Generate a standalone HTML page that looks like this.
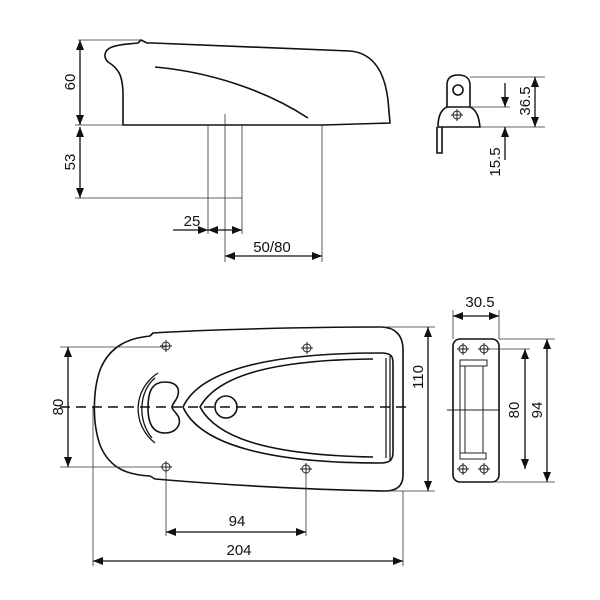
<!DOCTYPE html>
<html><head><meta charset="utf-8"><style>html,body{margin:0;padding:0;background:#fff}svg{display:block}text{font-family:"Liberation Sans",sans-serif;font-size:15px;fill:#111}</style></head><body>
<svg width="600" height="600" viewBox="0 0 600 600" xmlns="http://www.w3.org/2000/svg">
<defs>
<marker id="a" viewBox="0 0 10 8" refX="10" refY="4" markerWidth="10" markerHeight="8" markerUnits="userSpaceOnUse" orient="auto-start-reverse"><path d="M0,0L10,4L0,8Z" fill="#111"/></marker>
<g id="x"><circle r="4" fill="none" stroke="#222" stroke-width="1"/><path d="M-6,0H6M0,-6V6" stroke="#222" stroke-width="1"/></g>
</defs>
<g fill="none" stroke="#111" stroke-width="1.6">
<path d="M123,125 L123,95 C123,75 118,68 108,62 C103,57 104,50 112,47 C120,44 130,44 138,43 L141,40 L147,43 L153,43 L350,51 C375,53 385,75 388,100 L390,123 L323,125 Z"/>
<path d="M155,67 C210,72 265,90 308,118"/>
<path d="M153,333 L150,336 C130,338 110,345 100,370 C93,390 92,422 100,445 C110,470 130,475 150,476 L155,479 C250,487 330,490 385,491 C398,491 403,485 403,475 L403,350 C403,335 395,327 380,327 C300,327 200,330 153,333 Z"/>
<path d="M393,363 C393,355 390,353 380,353 C270,353 200,370 183,407 C200,445 270,463 380,463 C390,463 393,460 393,452 Z"/>
<path d="M373,359 C260,360 215,380 200,407 C215,435 260,455 373,457"/>
<path d="M386,358 V458 M390,356 V460" stroke-width="1.2"/>
<circle cx="226" cy="407" r="11"/>
<path d="M165,382 C150,382 148,395 148,408 C148,422 152,433 165,433 C176,433 181,425 179,418 C177,413 172,410 172,407 C172,404 177,400 178,395 C180,387 175,382 165,382 Z"/>
<path d="M158,373 C132,390 132,425 155,443 M155,378 C138,392 138,422 152,438" stroke-width="1.3"/>
<path d="M447,107 L447,85 C447,77 452,75 458,75 C465,75 470,78 470,85 L470,107 M447,107 C440,110 438,118 438,127 L480,127 C479,118 477,110 470,107 Z"/>
<circle cx="458" cy="90" r="5"/>
<path d="M437,127 V153 H442 V127"/>
<rect x="453" y="339" width="46" height="143" rx="7"/>
</g>
<g fill="none" stroke="#222" stroke-width="1">
<rect x="460" y="360" width="27" height="6"/><rect x="460" y="453" width="26" height="6"/>
<path d="M460,366V453M465,366V453M483,366V453M447,410H500"/>
</g>
<use href="#x" x="166" y="346"/><use href="#x" x="307" y="348"/><use href="#x" x="166" y="467"/><use href="#x" x="306" y="469"/>
<use href="#x" x="457" y="115"/>
<use href="#x" x="463" y="349"/><use href="#x" x="484" y="349"/><use href="#x" x="463" y="469"/><use href="#x" x="484" y="469"/>
<g stroke="#333" stroke-width="0.8" fill="none">
<path d="M78,40H140M75,125H123M75,198H242M208,125V234M225,114V262M242,125V234M322,125V262"/>
<path d="M60,347H166M60,467H166M380,327H435M390,491H435M93,407V566M166,467V536M306,469V536M403,491V566"/>
<path d="M470,77H545M480,127H545M470,107H510M453,310V339M499,310V339M490,349H530M499,339H555M490,482H555"/>
</g>
<path d="M60,407H412" stroke="#111" stroke-width="1.6" stroke-dasharray="10,6"/>
<g stroke="#111" stroke-width="1.3" fill="none">
<path d="M80,40V125" marker-start="url(#a)" marker-end="url(#a)"/>
<path d="M80,127V198" marker-start="url(#a)" marker-end="url(#a)"/>
<path d="M173,230H208" marker-end="url(#a)"/>
<path d="M208,230H242" marker-start="url(#a)" marker-end="url(#a)"/>
<path d="M225,256H322" marker-start="url(#a)" marker-end="url(#a)"/>
<path d="M68,347V467" marker-start="url(#a)" marker-end="url(#a)"/>
<path d="M428,327V491" marker-start="url(#a)" marker-end="url(#a)"/>
<path d="M166,532H306" marker-start="url(#a)" marker-end="url(#a)"/>
<path d="M93,561H403" marker-start="url(#a)" marker-end="url(#a)"/>
<path d="M535,77V127" marker-start="url(#a)" marker-end="url(#a)"/>
<path d="M505,83V107" marker-end="url(#a)"/>
<path d="M505,160V127" marker-end="url(#a)"/>
<path d="M453,316H499" marker-start="url(#a)" marker-end="url(#a)"/>
<path d="M525,349V469" marker-start="url(#a)" marker-end="url(#a)"/>
<path d="M547,339V482" marker-start="url(#a)" marker-end="url(#a)"/>
</g>
<text x="192" y="226" text-anchor="middle">25</text>
<text x="272" y="252" text-anchor="middle">50/80</text>
<text x="237" y="526" text-anchor="middle">94</text>
<text x="239" y="555" text-anchor="middle">204</text>
<text x="480" y="307" text-anchor="middle">30.5</text>
<text transform="translate(75,82) rotate(-90)" text-anchor="middle">60</text>
<text transform="translate(75,162) rotate(-90)" text-anchor="middle">53</text>
<text transform="translate(63,407) rotate(-90)" text-anchor="middle">80</text>
<text transform="translate(423,377) rotate(-90)" text-anchor="middle">110</text>
<text transform="translate(530,101) rotate(-90)" text-anchor="middle">36.5</text>
<text transform="translate(500,162) rotate(-90)" text-anchor="middle">15.5</text>
<text transform="translate(519,410) rotate(-90)" text-anchor="middle">80</text>
<text transform="translate(542,410) rotate(-90)" text-anchor="middle">94</text>
</svg>
</body></html>
